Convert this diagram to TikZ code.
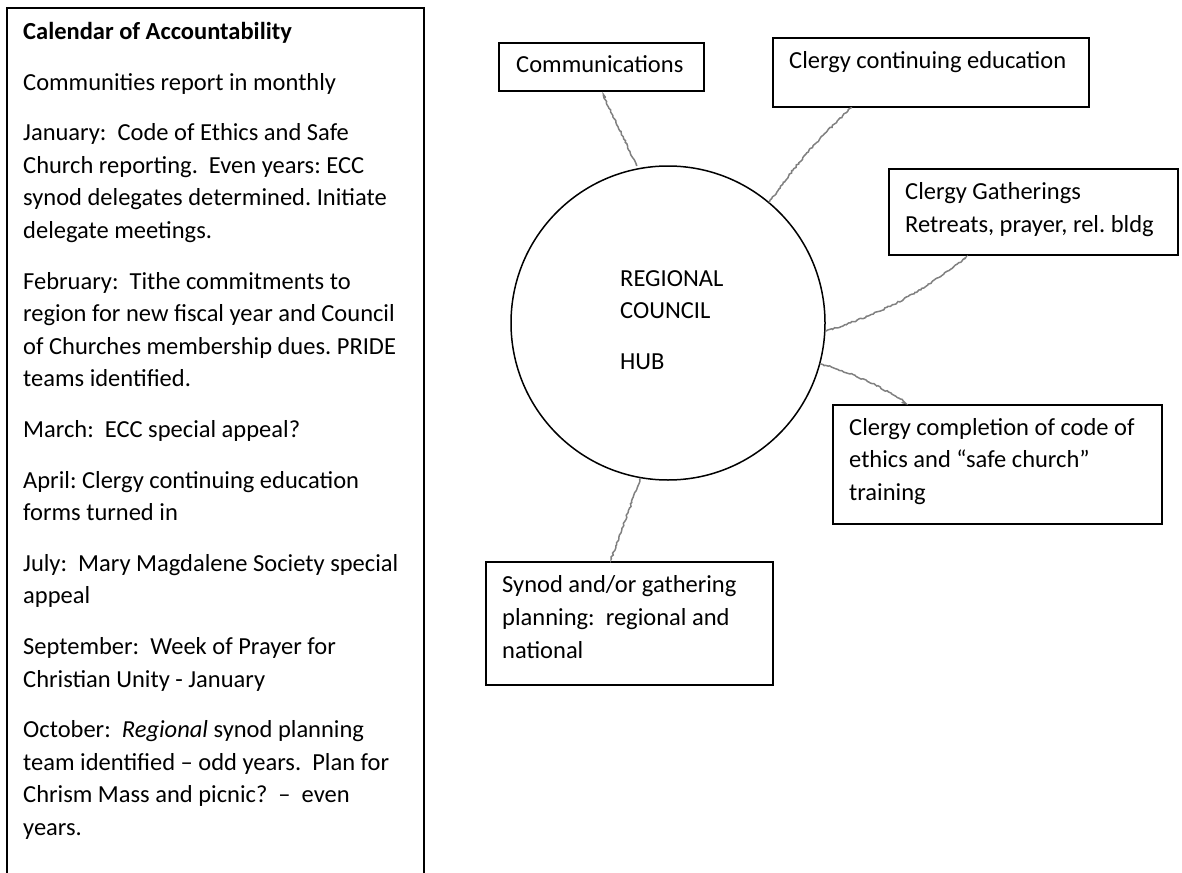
\documentclass[tikz,border=0pt]{standalone}
\usepackage{fontspec}
\setmainfont{Carlito}
\usetikzlibrary{decorations.pathmorphing}
\frenchspacing

\tikzset{
    box/.style={draw, line width=1.6pt, anchor=north west, inner sep=0pt},
    txt/.style={anchor=north west, align=left, inner sep=0pt, font=\fontsize{24.5}{32.6}\selectfont},
    pencil/.style={draw=black!50, line width=1.5pt, line cap=round, decorate,
        decoration={random steps, segment length=2pt, amplitude=0.8pt}},
}

\begin{document}
\begin{tikzpicture}[x=1pt, y=-1pt]
        \pgfmathsetseed{11}
        \useasboundingbox (0,0) rectangle (1182,872);

        % calendar column (text tops = first baseline - strut height)
        \draw[line width=1.6pt] (7,880) -- (7,8) -- (424,8) -- (424,880);
        \node[txt] (cal) at (23,16.5) {\strut\textbf{Calendar of Accountability}\\[18pt]
            Communities report in monthly\\[18pt]
            January:~ Code of Ethics and Safe\\
            Church reporting.~ Even years: ECC\\
            synod delegates determined. Initiate\\
            delegate meetings.\\[18pt]
            February:~ Tithe commitments to\\
            region for new fiscal year and Council\\
            of Churches membership dues. PRIDE\\
            teams identified.\\[18pt]
            March:~ ECC special appeal?\\[18pt]
            April: Clergy continuing education\\
            forms turned in\\[18pt]
            July:~ Mary Magdalene Society special\\
            appeal\\[18pt]
            September:~ Week of Prayer for\\
            Christian Unity - January\\[18pt]
            October:~ \textit{Regional} synod planning\\
            team identified – odd years.~ Plan for\\
            Chrism Mass and picnic?~ –~ even\\
            years.};

        % hub
        \node[circle, draw, line width=1.5pt, minimum size=314pt, inner sep=0pt] (hub) at (668,323) {};
        \node[txt] (hubtxt) at (620,263.2) {\strut REGIONAL\\COUNCIL\\[18pt]HUB};

        % boxes
        \node[box, minimum width=205pt, minimum height=48pt] (comm) at (498,42) {};
        \node[box, minimum width=316pt, minimum height=69pt] (ced) at (772,37) {};
        \node[box, minimum width=289pt, minimum height=86pt] (gath) at (888,168) {};
        \node[box, minimum width=329pt, minimum height=119pt] (comp) at (832,404) {};
        \node[box, minimum width=287pt, minimum height=123pt] (syn) at (485,561) {};

        % box texts
        \node[txt] (commtxt) at (516,49.9) {\strut Communications};
        \node[txt] (cedtxt) at (789,45.5) {\strut Clergy continuing education};
        \node[txt] (gathtxt) at (905,176.5) {\strut Clergy Gatherings\\Retreats, prayer, rel. bldg};
        \node[txt] (comptxt) at (849,412.2) {\strut Clergy completion of code of\\ethics and “safe church”\\training};
        \node[txt] (syntxt) at (502,569.9) {\strut Synod and/or gathering\\planning:~ regional and\\national};

        % spokes
        \draw[pencil, shorten <=4pt, shorten >=7pt] (hub.101) -- (comm.south);
        \draw[pencil] (hub.50) to[bend left=6] (ced.204);
        \draw[pencil, shorten >=6pt] (hub.-3) to[bend right=10] (gath.214);
        \draw[pencil, shorten >=6pt] (hub.-15) to[bend left=8] (comp.146);
        \draw[pencil, shorten >=3pt] (hub.260) -- (syn.107);
\end{tikzpicture}
\end{document}
